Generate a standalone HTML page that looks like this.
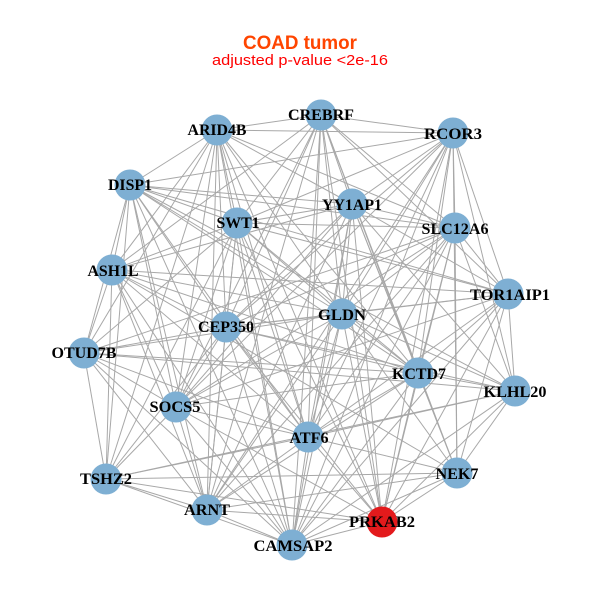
<!DOCTYPE html>
<html><head><meta charset="utf-8"><style>
html,body{margin:0;padding:0;background:#fff;}
svg{display:block;}
.l{font-family:"Liberation Serif",serif;font-weight:bold;font-size:15.5px;fill:#000;}
</style></head><body>
<svg width="600" height="600" viewBox="0 0 600 600" xmlns="http://www.w3.org/2000/svg">
<rect width="600" height="600" fill="#fff"/>
<text x="300" y="49" text-anchor="middle" font-family="Liberation Sans, sans-serif" font-weight="bold" font-size="19" fill="#FF4500" textLength="114" lengthAdjust="spacingAndGlyphs">COAD tumor</text>
<text x="300" y="65" text-anchor="middle" font-family="Liberation Sans, sans-serif" font-size="14.5" fill="#FF0000" textLength="176" lengthAdjust="spacingAndGlyphs">adjusted p-value &lt;2e-16</text>
<g stroke="#a8a8a8" stroke-width="1" fill="none">
<line x1="321" y1="115" x2="217" y2="130"/><line x1="321" y1="115" x2="453" y2="133"/><line x1="321" y1="115" x2="352" y2="204"/><line x1="321" y1="115" x2="237" y2="223"/><line x1="321" y1="115" x2="455" y2="228"/><line x1="321" y1="115" x2="112" y2="270"/><line x1="321" y1="115" x2="508" y2="294"/><line x1="321" y1="115" x2="342" y2="314"/><line x1="321" y1="115" x2="226" y2="327"/><line x1="321" y1="115" x2="418" y2="373"/><line x1="321" y1="115" x2="176" y2="407"/><line x1="321" y1="115" x2="308" y2="437"/><line x1="321" y1="115" x2="457" y2="473"/><line x1="321" y1="115" x2="207" y2="510"/><line x1="321" y1="115" x2="382" y2="522"/><line x1="321" y1="115" x2="292" y2="545"/>
<line x1="217" y1="130" x2="453" y2="133"/><line x1="217" y1="130" x2="130" y2="185"/><line x1="217" y1="130" x2="352" y2="204"/><line x1="217" y1="130" x2="237" y2="223"/><line x1="217" y1="130" x2="455" y2="228"/><line x1="217" y1="130" x2="112" y2="270"/><line x1="217" y1="130" x2="342" y2="314"/><line x1="217" y1="130" x2="226" y2="327"/><line x1="217" y1="130" x2="84" y2="353"/><line x1="217" y1="130" x2="418" y2="373"/><line x1="217" y1="130" x2="176" y2="407"/><line x1="217" y1="130" x2="308" y2="437"/><line x1="217" y1="130" x2="106" y2="479"/><line x1="217" y1="130" x2="207" y2="510"/><line x1="217" y1="130" x2="382" y2="522"/><line x1="217" y1="130" x2="292" y2="545"/>
<line x1="453" y1="133" x2="130" y2="185"/><line x1="453" y1="133" x2="352" y2="204"/><line x1="453" y1="133" x2="237" y2="223"/><line x1="453" y1="133" x2="455" y2="228"/><line x1="453" y1="133" x2="508" y2="294"/><line x1="453" y1="133" x2="342" y2="314"/><line x1="453" y1="133" x2="226" y2="327"/><line x1="453" y1="133" x2="418" y2="373"/><line x1="453" y1="133" x2="515" y2="391"/><line x1="453" y1="133" x2="176" y2="407"/><line x1="453" y1="133" x2="308" y2="437"/><line x1="453" y1="133" x2="457" y2="473"/><line x1="453" y1="133" x2="207" y2="510"/><line x1="453" y1="133" x2="382" y2="522"/><line x1="453" y1="133" x2="292" y2="545"/>
<line x1="130" y1="185" x2="352" y2="204"/><line x1="130" y1="185" x2="237" y2="223"/><line x1="130" y1="185" x2="455" y2="228"/><line x1="130" y1="185" x2="112" y2="270"/><line x1="130" y1="185" x2="508" y2="294"/><line x1="130" y1="185" x2="342" y2="314"/><line x1="130" y1="185" x2="226" y2="327"/><line x1="130" y1="185" x2="84" y2="353"/><line x1="130" y1="185" x2="418" y2="373"/><line x1="130" y1="185" x2="515" y2="391"/><line x1="130" y1="185" x2="176" y2="407"/><line x1="130" y1="185" x2="308" y2="437"/><line x1="130" y1="185" x2="106" y2="479"/><line x1="130" y1="185" x2="207" y2="510"/><line x1="130" y1="185" x2="292" y2="545"/>
<line x1="352" y1="204" x2="237" y2="223"/><line x1="352" y1="204" x2="455" y2="228"/><line x1="352" y1="204" x2="112" y2="270"/><line x1="352" y1="204" x2="508" y2="294"/><line x1="352" y1="204" x2="342" y2="314"/><line x1="352" y1="204" x2="226" y2="327"/><line x1="352" y1="204" x2="418" y2="373"/><line x1="352" y1="204" x2="515" y2="391"/><line x1="352" y1="204" x2="176" y2="407"/><line x1="352" y1="204" x2="308" y2="437"/><line x1="352" y1="204" x2="457" y2="473"/><line x1="352" y1="204" x2="207" y2="510"/><line x1="352" y1="204" x2="382" y2="522"/><line x1="352" y1="204" x2="292" y2="545"/>
<line x1="237" y1="223" x2="455" y2="228"/><line x1="237" y1="223" x2="112" y2="270"/><line x1="237" y1="223" x2="508" y2="294"/><line x1="237" y1="223" x2="342" y2="314"/><line x1="237" y1="223" x2="226" y2="327"/><line x1="237" y1="223" x2="84" y2="353"/><line x1="237" y1="223" x2="418" y2="373"/><line x1="237" y1="223" x2="176" y2="407"/><line x1="237" y1="223" x2="308" y2="437"/><line x1="237" y1="223" x2="106" y2="479"/><line x1="237" y1="223" x2="207" y2="510"/><line x1="237" y1="223" x2="382" y2="522"/><line x1="237" y1="223" x2="292" y2="545"/>
<line x1="455" y1="228" x2="508" y2="294"/><line x1="455" y1="228" x2="342" y2="314"/><line x1="455" y1="228" x2="226" y2="327"/><line x1="455" y1="228" x2="84" y2="353"/><line x1="455" y1="228" x2="418" y2="373"/><line x1="455" y1="228" x2="515" y2="391"/><line x1="455" y1="228" x2="176" y2="407"/><line x1="455" y1="228" x2="308" y2="437"/><line x1="455" y1="228" x2="457" y2="473"/><line x1="455" y1="228" x2="207" y2="510"/><line x1="455" y1="228" x2="382" y2="522"/><line x1="455" y1="228" x2="292" y2="545"/>
<line x1="112" y1="270" x2="508" y2="294"/><line x1="112" y1="270" x2="342" y2="314"/><line x1="112" y1="270" x2="226" y2="327"/><line x1="112" y1="270" x2="84" y2="353"/><line x1="112" y1="270" x2="418" y2="373"/><line x1="112" y1="270" x2="176" y2="407"/><line x1="112" y1="270" x2="308" y2="437"/><line x1="112" y1="270" x2="457" y2="473"/><line x1="112" y1="270" x2="106" y2="479"/><line x1="112" y1="270" x2="207" y2="510"/><line x1="112" y1="270" x2="292" y2="545"/>
<line x1="508" y1="294" x2="342" y2="314"/><line x1="508" y1="294" x2="226" y2="327"/><line x1="508" y1="294" x2="418" y2="373"/><line x1="508" y1="294" x2="515" y2="391"/><line x1="508" y1="294" x2="176" y2="407"/><line x1="508" y1="294" x2="308" y2="437"/><line x1="508" y1="294" x2="457" y2="473"/><line x1="508" y1="294" x2="382" y2="522"/><line x1="508" y1="294" x2="292" y2="545"/>
<line x1="342" y1="314" x2="226" y2="327"/><line x1="342" y1="314" x2="84" y2="353"/><line x1="342" y1="314" x2="418" y2="373"/><line x1="342" y1="314" x2="515" y2="391"/><line x1="342" y1="314" x2="176" y2="407"/><line x1="342" y1="314" x2="308" y2="437"/><line x1="342" y1="314" x2="457" y2="473"/><line x1="342" y1="314" x2="207" y2="510"/><line x1="342" y1="314" x2="382" y2="522"/><line x1="342" y1="314" x2="292" y2="545"/>
<line x1="226" y1="327" x2="84" y2="353"/><line x1="226" y1="327" x2="418" y2="373"/><line x1="226" y1="327" x2="515" y2="391"/><line x1="226" y1="327" x2="176" y2="407"/><line x1="226" y1="327" x2="308" y2="437"/><line x1="226" y1="327" x2="106" y2="479"/><line x1="226" y1="327" x2="207" y2="510"/><line x1="226" y1="327" x2="382" y2="522"/><line x1="226" y1="327" x2="292" y2="545"/>
<line x1="84" y1="353" x2="418" y2="373"/><line x1="84" y1="353" x2="515" y2="391"/><line x1="84" y1="353" x2="176" y2="407"/><line x1="84" y1="353" x2="308" y2="437"/><line x1="84" y1="353" x2="106" y2="479"/><line x1="84" y1="353" x2="207" y2="510"/><line x1="84" y1="353" x2="292" y2="545"/>
<line x1="418" y1="373" x2="515" y2="391"/><line x1="418" y1="373" x2="176" y2="407"/><line x1="418" y1="373" x2="308" y2="437"/><line x1="418" y1="373" x2="457" y2="473"/><line x1="418" y1="373" x2="207" y2="510"/><line x1="418" y1="373" x2="382" y2="522"/><line x1="418" y1="373" x2="292" y2="545"/>
<line x1="515" y1="391" x2="308" y2="437"/><line x1="515" y1="391" x2="457" y2="473"/><line x1="515" y1="391" x2="106" y2="479"/><line x1="515" y1="391" x2="382" y2="522"/><line x1="515" y1="391" x2="292" y2="545"/>
<line x1="176" y1="407" x2="308" y2="437"/><line x1="176" y1="407" x2="106" y2="479"/><line x1="176" y1="407" x2="207" y2="510"/><line x1="176" y1="407" x2="382" y2="522"/><line x1="176" y1="407" x2="292" y2="545"/>
<line x1="308" y1="437" x2="457" y2="473"/><line x1="308" y1="437" x2="106" y2="479"/><line x1="308" y1="437" x2="207" y2="510"/><line x1="308" y1="437" x2="382" y2="522"/><line x1="308" y1="437" x2="292" y2="545"/>
<line x1="457" y1="473" x2="106" y2="479"/><line x1="457" y1="473" x2="207" y2="510"/><line x1="457" y1="473" x2="382" y2="522"/><line x1="457" y1="473" x2="292" y2="545"/>
<line x1="106" y1="479" x2="207" y2="510"/><line x1="106" y1="479" x2="382" y2="522"/><line x1="106" y1="479" x2="292" y2="545"/>
<line x1="207" y1="510" x2="382" y2="522"/><line x1="207" y1="510" x2="292" y2="545"/>
<line x1="382" y1="522" x2="292" y2="545"/>
</g>
<g fill="#7EAFD3">
<circle cx="321" cy="115" r="15.5"/><circle cx="217" cy="130" r="15.5"/><circle cx="453" cy="133" r="15.5"/><circle cx="130" cy="185" r="15.5"/><circle cx="352" cy="204" r="15.5"/><circle cx="237" cy="223" r="15.5"/><circle cx="455" cy="228" r="15.5"/><circle cx="112" cy="270" r="15.5"/><circle cx="508" cy="294" r="15.5"/><circle cx="342" cy="314" r="15.5"/><circle cx="226" cy="327" r="15.5"/><circle cx="84" cy="353" r="15.5"/><circle cx="418" cy="373" r="15.5"/><circle cx="515" cy="391" r="15.5"/><circle cx="176" cy="407" r="15.5"/><circle cx="308" cy="437" r="15.5"/><circle cx="457" cy="473" r="15.5"/><circle cx="106" cy="479" r="15.5"/><circle cx="207" cy="510" r="15.5"/><circle cx="292" cy="545" r="15.5"/>
</g>
<circle cx="382" cy="522" r="15.5" fill="#E31A1C"/>
<g class="l" text-anchor="middle">
<text x="321" y="120" textLength="66" lengthAdjust="spacingAndGlyphs">CREBRF</text>
<text x="217" y="135" textLength="59" lengthAdjust="spacingAndGlyphs">ARID4B</text>
<text x="453" y="139" textLength="58" lengthAdjust="spacingAndGlyphs">RCOR3</text>
<text x="130" y="190" textLength="44" lengthAdjust="spacingAndGlyphs">DISP1</text>
<text x="352" y="210" textLength="60" lengthAdjust="spacingAndGlyphs">YY1AP1</text>
<text x="238" y="228" textLength="43" lengthAdjust="spacingAndGlyphs">SWT1</text>
<text x="455" y="234" textLength="67" lengthAdjust="spacingAndGlyphs">SLC12A6</text>
<text x="113" y="276" textLength="51" lengthAdjust="spacingAndGlyphs">ASH1L</text>
<text x="510" y="300" textLength="80" lengthAdjust="spacingAndGlyphs">TOR1AIP1</text>
<text x="342" y="320" textLength="48" lengthAdjust="spacingAndGlyphs">GLDN</text>
<text x="226" y="332" textLength="56" lengthAdjust="spacingAndGlyphs">CEP350</text>
<text x="84" y="358" textLength="65" lengthAdjust="spacingAndGlyphs">OTUD7B</text>
<text x="419" y="379" textLength="54" lengthAdjust="spacingAndGlyphs">KCTD7</text>
<text x="515" y="397" textLength="63" lengthAdjust="spacingAndGlyphs">KLHL20</text>
<text x="175" y="412" textLength="51" lengthAdjust="spacingAndGlyphs">SOCS5</text>
<text x="309" y="443" textLength="39" lengthAdjust="spacingAndGlyphs">ATF6</text>
<text x="457" y="479" textLength="43" lengthAdjust="spacingAndGlyphs">NEK7</text>
<text x="106" y="484" textLength="52" lengthAdjust="spacingAndGlyphs">TSHZ2</text>
<text x="207" y="515" textLength="46" lengthAdjust="spacingAndGlyphs">ARNT</text>
<text x="382" y="527" textLength="66" lengthAdjust="spacingAndGlyphs">PRKAB2</text>
<text x="293" y="551" textLength="79" lengthAdjust="spacingAndGlyphs">CAMSAP2</text>
</g>
</svg>
</body></html>
